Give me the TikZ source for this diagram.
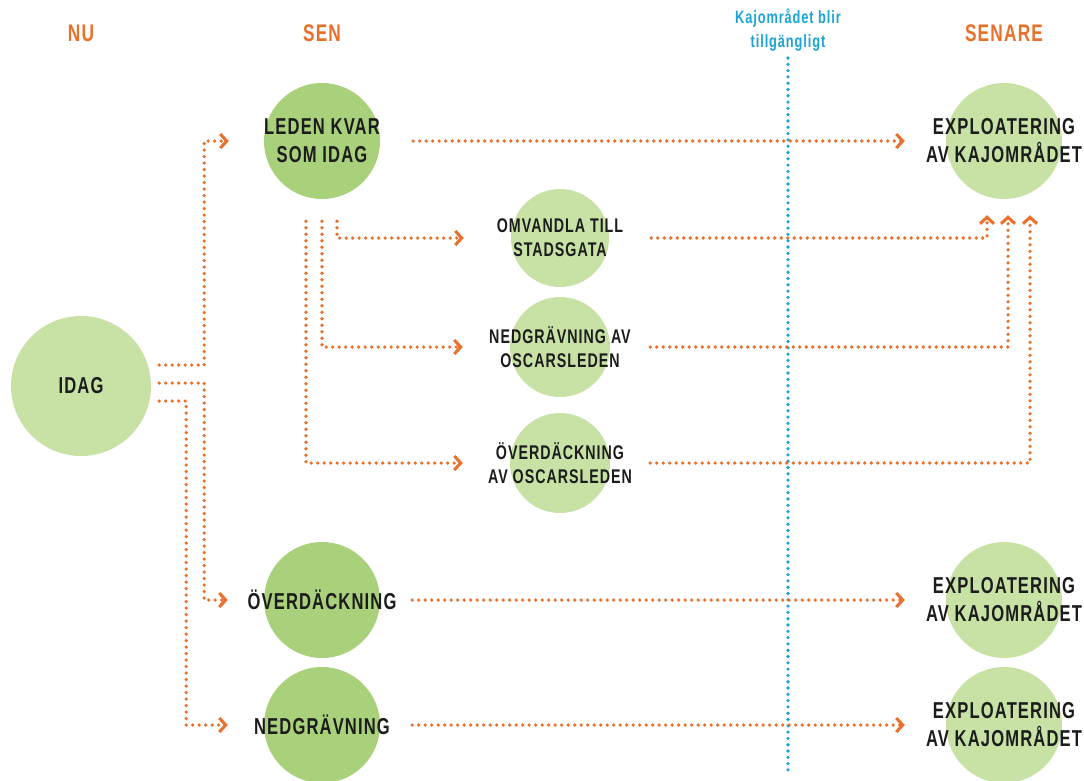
\documentclass[tikz,border=0pt]{standalone}
\usepackage{fontspec}
\newfontfamily\diafont[FakeStretch=0.72,LetterSpace=5]{Liberation Sans}
\usetikzlibrary{arrows.meta,calc}
\definecolor{flodorange}{RGB}{232,112,42}
\definecolor{linjeblue}{RGB}{27,163,214}
\definecolor{ljusgron}{RGB}{200,226,166}
\definecolor{morkgron}{RGB}{169,208,122}
\definecolor{textsvart}{RGB}{28,28,28}
\begin{document}
\begin{tikzpicture}[x=1pt,y=-1pt,
    lightdisc/.style={circle,fill=ljusgron,inner sep=0pt,minimum size=#1},
    lightdisc/.default=116,
    darkdisc/.style={circle,fill=morkgron,inner sep=0pt,minimum size=116},
    bigtxt/.style={font=\diafont\bfseries\fontsize{23}{28}\selectfont,align=center,text=textsvart},
    smalltxt/.style={font=\diafont\bfseries\fontsize{19.8}{24}\selectfont,align=center,text=textsvart},
    headtxt/.style={font=\diafont\bfseries\fontsize{24}{26}\selectfont,text=flodorange},
    bluetxt/.style={font=\diafont\bfseries\fontsize{17.8}{24}\selectfont,align=center,text=linjeblue},
    flow/.style={draw=flodorange,line width=3.6pt,line cap=round,dash pattern=on 0pt off 6.5pt,
        -{Straight Barb[length=6.5pt,width=14pt,line width=3pt]}},
    milestone/.style={draw=linjeblue,line width=3.6pt,line cap=round,dash pattern=on 0pt off 6.3pt}]
    \useasboundingbox (0,0) rectangle (1084,780);

    % rubriker
    \node[headtxt] (nu) at (81,33) {NU};
    \node[headtxt] (sen) at (322,33) {SEN};
    \node[headtxt] (senare) at (1004,33) {SENARE};

    % tidslinje
    \node[bluetxt] (kaj) at (788,30) {Kajområdet blir\\tillgängligt};
    \coordinate (b1) at (788,58);
    \coordinate (b2) at (788,772);
    \draw[milestone] (b1) -- (b2);

    % cirklar
    \node[lightdisc=140] (idag) at (81,386) {};
    \node[bigtxt] (idag-t) at (idag) {IDAG};

    \node[darkdisc] (lk) at (322,141) {};
    \node[bigtxt] (lk-t) at (lk) {LEDEN KVAR\\SOM IDAG};
    \node[darkdisc] (ov) at (322,600) {};
    \node[bigtxt] (ov-t) at (ov) {ÖVERDÄCKNING};
    \node[darkdisc] (ng) at (322,725) {};
    \node[bigtxt] (ng-t) at (ng) {NEDGRÄVNING};

    \node[lightdisc=98] (om) at (560,238) {};
    \node[smalltxt] (om-t) at (om) {OMVANDLA TILL\\STADSGATA};
    \node[lightdisc=100] (nd) at (560,347) {};
    \node[smalltxt] (nd-t) at (nd) {NEDGRÄVNING AV\\OSCARSLEDEN};
    \node[lightdisc=100] (oo) at (560,463) {};
    \node[smalltxt] (oo-t) at (oo) {ÖVERDÄCKNING\\AV OSCARSLEDEN};

    \node[lightdisc] (ex1) at (1004,141) {};
    \node[bigtxt] (ex1-t) at (ex1) {EXPLOATERING\\AV KAJOMRÅDET};
    \node[lightdisc] (ex2) at (1004,600) {};
    \node[bigtxt] (ex2-t) at (ex2) {EXPLOATERING\\AV KAJOMRÅDET};
    \node[lightdisc] (ex3) at (1004,725) {};
    \node[bigtxt] (ex3-t) at (ex3) {EXPLOATERING\\AV KAJOMRÅDET};

    % pilar fran idag
    \draw[flow,shorten >=35pt] ($(idag.east)+(8,-21)$) -- ++(45,0) |- (lk.west);
    \draw[flow,shorten >=36pt] ($(idag.east)+(8,-3)$) -- ++(45,0) |- (ov.west);
    \draw[flow,shorten >=36pt] ($(idag.east)+(8,15)$) -- ++(27,0) |- (ng.west);

    % pilar fran leden kvar
    \draw[flow,shorten >=47pt] ($(lk.south)+(15,22)$) |- (om.west);
    \draw[flow,shorten >=47pt] ($(lk.south)+(0,22)$) |- (nd.west);
    \draw[flow,shorten >=47pt] ($(lk.south)+(-16,22)$) |- (oo.west);
    \draw[flow,shorten <=33pt,shorten >=41pt] (lk.east) -- (ex1.west);

    % pilar till exploatering
    \draw[flow,shorten <=42pt,shorten >=16pt] (om.east) -| ($(ex1.south)+(-17,0)$);
    \draw[flow,shorten <=40pt,shorten >=16pt] (nd.east) -| ($(ex1.south)+(4,0)$);
    \draw[flow,shorten <=40pt,shorten >=16pt] (oo.east) -| ($(ex1.south)+(26,0)$);
    \draw[flow,shorten <=32pt,shorten >=41pt] (ov.east) -- (ex2.west);
    \draw[flow,shorten <=32pt,shorten >=41pt] (ng.east) -- (ex3.west);
\end{tikzpicture}
\end{document}
